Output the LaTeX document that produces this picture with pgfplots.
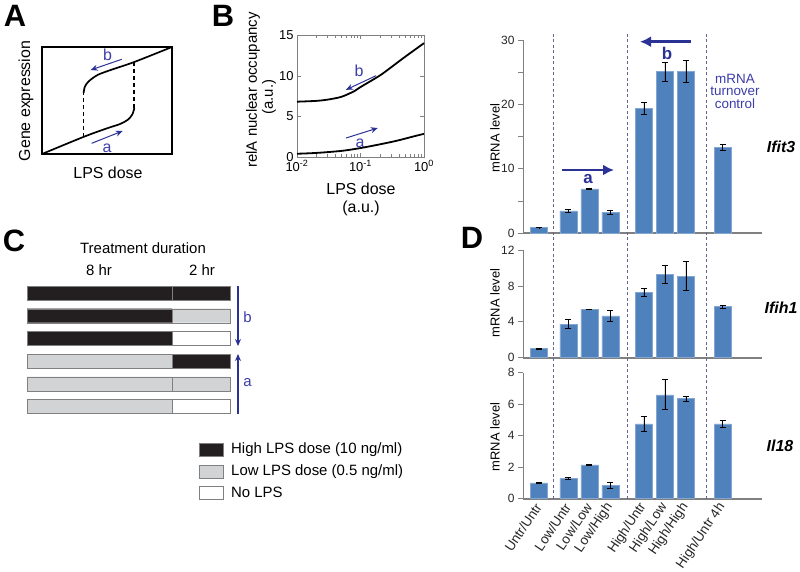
\documentclass[border=0pt]{standalone}
\usepackage{pgfplots}
\pgfplotsset{compat=1.18}
\usepackage{fontspec}
\setmainfont{Liberation Sans}
\usetikzlibrary{arrows.meta}
\definecolor{barblue}{RGB}{79,129,189}
\definecolor{arrblue}{RGB}{43,50,150}
\definecolor{txtblue}{RGB}{60,60,170}
\definecolor{axgray}{RGB}{128,128,128}
\definecolor{hiC}{RGB}{35,31,32}
\definecolor{loC}{RGB}{209,211,212}
\definecolor{dashC}{RGB}{100,100,140}
\newcommand{\fs}[1]{\fontsize{#1}{#1}\selectfont}
\pgfplotsset{
  dstyle/.style={scale only axis, width=239bp, xmin=-0.76, xmax=10.62,
    axis x line*=bottom, axis y line*=left,
    x axis line style={axgray, line width=2bp, -},
    y axis line style={axgray, line width=0.8bp, -},
    xtick=\empty, ytick style={axgray, line width=0.8bp}, tick align=outside,
    major tick length=5bp,
    yticklabel style={font=\fs{12}, text=black!85},
    /pgf/number format/assume math mode=true,
    clip=false, ybar, bar width=17bp, bar shift=0pt},
  dbar/.style={fill=barblue, draw=barblue!70!white, line width=0.5bp,
    error bars/.cd, y dir=both, y explicit,
    error bar style={black, line width=0.7bp},
    error mark options={rotate=90, black, mark size=3bp, line width=0.7bp}}
}
\begin{document}
\begin{tikzpicture}
\path[use as bounding box] (0,0) rectangle (800bp,-572bp);

% ---------------- Panel A ----------------
\begin{axis}[at={(42bp,-154bp)}, anchor=south west, scale only axis,
  width=130bp, height=107bp, xmin=0, xmax=1, ymin=0, ymax=1,
  xtick=\empty, ytick=\empty, axis line style={line width=1.3bp}, clip=false]
\addplot[black, line width=1.7bp, smooth] coordinates {(0,0) (0.32,0.16) (0.5,0.24) (0.6,0.28) (0.66,0.32) (0.695,0.37) (0.71,0.43)};
\addplot[black, line width=1.7bp, smooth] coordinates {(0.32,0.57) (0.33,0.63) (0.36,0.68) (0.43,0.74) (0.54,0.79) (0.71,0.86) (1,1)};
\addplot[black, line width=1.7bp, dash pattern=on 4bp off 3bp] coordinates {(0.32,0.16) (0.32,0.57)};
\addplot[black, line width=1.7bp, dash pattern=on 4bp off 3bp] coordinates {(0.71,0.43) (0.71,0.86)};
\draw[arrblue, line width=1bp, -{Stealth[length=7bp,width=6bp]}] (axis cs:0.613,0.885) -- (axis cs:0.374,0.785);
\draw[arrblue, line width=1bp, -{Stealth[length=7bp,width=6bp]}] (axis cs:0.382,0.10) -- (axis cs:0.62,0.215);
\node[txtblue, font=\fs{16}] at (axis cs:0.505,0.93) {b};
\node[txtblue, font=\fs{16}] at (axis cs:0.50,0.05) {a};
\end{axis}

% ---------------- Panel B ----------------
\begin{axis}[at={(297bp,-157bp)}, anchor=south west, scale only axis,
  width=127bp, height=122bp, xmode=log, xmin=0.01, xmax=1, ymin=0, ymax=15,
  ytick={0,5,10,15}, xtick={0.01,0.1,1},
  xticklabels={10\textsuperscript{-2},10\textsuperscript{-1},10\textsuperscript{0}},
  tick align=inside, axis line style={axgray, line width=0.6bp},
  tick style={axgray}, ticklabel style={font=\fs{13}},
  /pgf/number format/assume math mode=true, clip=false]
\addplot[black, line width=1.8bp, smooth] coordinates {(0.01,6.8) (0.02,6.9) (0.03,7.05) (0.05,7.4) (0.08,8.1) (0.1,8.6) (0.2,10.0) (0.3,11.0) (0.5,12.3) (1,14.0)};
\addplot[black, line width=1.8bp, smooth] coordinates {(0.01,0.4) (0.02,0.5) (0.05,0.75) (0.1,1.1) (0.2,1.55) (0.35,1.95) (0.5,2.25) (0.7,2.55) (1,2.85)};
\draw[arrblue, line width=1bp, -{Stealth[length=7bp,width=6bp]}] (axis cs:0.176,10.0) -- (axis cs:0.059,8.26);
\draw[arrblue, line width=1bp, -{Stealth[length=7bp,width=6bp]}] (axis cs:0.059,2.33) -- (axis cs:0.187,3.56);
\node[txtblue, font=\fs{16}] at (axis cs:0.095,10.6) {b};
\node[txtblue, font=\fs{16}] at (axis cs:0.098,1.7) {a};
\end{axis}

% ---------------- Panel C ----------------
\begin{axis}[at={(27bp,-281.65bp)}, anchor=north west, scale only axis,
  width=203bp, height=136.2bp, xmin=0, xmax=10, ymin=0.5, ymax=6.5,
  y dir=reverse, hide axis, xbar, bar width=14bp, bar shift=0pt, clip=false]
\addplot[xbar, bar shift=0pt, draw=axgray, fill=hiC] coordinates {(10,1) (10,4)};
\addplot[xbar, bar shift=0pt, draw=axgray, fill=loC] coordinates {(10,2) (10,5)};
\addplot[xbar, bar shift=0pt, draw=axgray, fill=white] coordinates {(10,3) (10,6)};
\addplot[xbar, bar shift=0pt, draw=axgray, fill=hiC] coordinates {(7.15,1) (7.15,2) (7.15,3)};
\addplot[xbar, bar shift=0pt, draw=axgray, fill=loC] coordinates {(7.15,4) (7.15,5) (7.15,6)};
\end{axis}

% ---------------- Panel D : Ifit3 ----------------
\begin{axis}[dstyle, at={(523bp,-233.3bp)}, anchor=south west, height=193.3bp,
  ymin=0, ymax=30, ytick={0,5,...,30}, yticklabels={0,,10,,20,,30}]
\addplot[dbar] coordinates {
 (0,0.9) +- (0,0.05)
 (1.4,3.5) +- (0,0.2)
 (2.4,6.9) +- (0,0.15)
 (3.4,3.3) +- (0,0.3)
 (5,19.4) +- (0,1.0)
 (6,25.1) +- (0,1.5)
 (7,25.1) +- (0,1.7)
 (8.75,13.3) +- (0,0.5)};
\end{axis}

% ---------------- Panel D : Ifih1 ----------------
\begin{axis}[dstyle, at={(523bp,-357.7bp)}, anchor=south west, height=107.7bp,
  ymin=0, ymax=12, ytick={0,4,8,12}]
\addplot[dbar] coordinates {
 (0,1.0) +- (0,0.03)
 (1.4,3.75) +- (0,0.5)
 (2.4,5.4) +- (0,0.04)
 (3.4,4.65) +- (0,0.6)
 (5,7.3) +- (0,0.45)
 (6,9.3) +- (0,1.0)
 (7,9.1) +- (0,1.6)
 (8.75,5.7) +- (0,0.15)};
\end{axis}

% ---------------- Panel D : Il18 ----------------
\begin{axis}[dstyle, at={(523bp,-498.7bp)}, anchor=south west, height=126bp,
  ymin=0, ymax=8, ytick={0,2,...,8},
  xtick={0,1.4,2.4,3.4,5,6,7,8.75},
  xticklabels={Untr/Untr,Low/Untr,Low/Low,Low/High,High/Untr,High/Low,High/High,High/Untr 4h},
  xtick style={draw=none},
  xticklabel style={rotate=56, anchor=east, font=\fs{13.5}, text=black!85, inner sep=1bp}]
\addplot[dbar] coordinates {
 (0,1.0) +- (0,0.02)
 (1.4,1.28) +- (0,0.05)
 (2.4,2.15) +- (0,0.03)
 (3.4,0.85) +- (0,0.22)
 (5,4.75) +- (0,0.5)
 (6,6.6) +- (0,0.95)
 (7,6.35) +- (0,0.15)
 (8.75,4.75) +- (0,0.23)};
\draw[dashC, line width=0.7bp, dash pattern=on 3bp off 2.5bp] (axis cs:0.67,0) -- (axis cs:0.67,29.57);
\draw[dashC, line width=0.7bp, dash pattern=on 3bp off 2.5bp] (axis cs:4.19,0) -- (axis cs:4.19,29.57);
\draw[dashC, line width=0.7bp, dash pattern=on 3bp off 2.5bp] (axis cs:7.95,0) -- (axis cs:7.95,29.57);
\end{axis}

% ---------------- annotations (pixel coordinates) ----------------
\begin{scope}[x=1bp, y=-1bp]
% panel letters
\node[font=\fs{31}\bfseries] at (15,16) {A};
\node[font=\fs{31}\bfseries] at (223,16) {B};
\node[font=\fs{31}\bfseries] at (14,241) {C};
\node[font=\fs{31}\bfseries] at (472,238) {D};
% panel A labels
\node[rotate=90, font=\fs{16}] at (26,101) {Gene expression};
\node[font=\fs{16}] at (108,173) {LPS dose};
% panel B labels
\node[rotate=90, font=\fs{15}] at (253,90) {relA nuclear occupancy};
\node[rotate=90, font=\fs{15}] at (269,97) {(a.u.)};
\node[font=\fs{16}] at (361,189) {LPS dose};
\node[font=\fs{16}] at (361,208) {(a.u.)};
% panel C texts
\node[font=\fs{15}] at (143,248) {Treatment duration};
\node[font=\fs{15}] at (99,270) {8 hr};
\node[font=\fs{15}] at (202,270) {2 hr};
\draw[arrblue, line width=1.2bp, -{Stealth[length=7bp,width=6bp]}] (238,286) -- (238,346);
\draw[arrblue, line width=1.2bp, -{Stealth[length=7bp,width=6bp]}] (238,414) -- (238,354);
\node[txtblue, font=\fs{15}] at (247.5,317) {b};
\node[txtblue, font=\fs{15}] at (247.5,383) {a};
% panel C legend
\draw[axgray, fill=hiC] (199,443) rectangle (223,456);
\draw[axgray, fill=loC] (199,465) rectangle (223,478);
\draw[axgray, fill=white] (199,486) rectangle (223,499);
\node[anchor=west, font=\fs{15}, inner sep=0pt] at (231,449.5) {High LPS dose (10 ng/ml)};
\node[anchor=west, font=\fs{15}, inner sep=0pt] at (231,471.5) {Low LPS dose (0.5 ng/ml)};
\node[anchor=west, font=\fs{15}, inner sep=0pt] at (231,492.5) {No LPS};
% panel D texts
\node[rotate=90, font=\fs{13}] at (495,138) {mRNA level};
\node[rotate=90, font=\fs{13}] at (495,303) {mRNA level};
\node[rotate=90, font=\fs{13}] at (495,437) {mRNA level};
\node[font=\fs{16}\bfseries\itshape] at (781,147) {Ifit3};
\node[font=\fs{16}\bfseries\itshape] at (781,308) {Ifih1};
\node[font=\fs{16}\bfseries\itshape] at (780,446) {Il18};
\node[txtblue, font=\fs{13.5}, align=center, text depth=0pt] at (735,91) {mRNA\\[-1bp]turnover\\[-1bp]control};
\draw[arrblue, line width=2.6bp, -{Latex[length=11bp,width=11bp]}] (562,170) -- (614,170);
\draw[arrblue, line width=2.6bp, -{Latex[length=11bp,width=11bp]}] (691,41.7) -- (640,41.7);
\node[arrblue, font=\fs{17}\bfseries] at (588,179) {a};
\node[arrblue, font=\fs{17}\bfseries] at (667,53) {b};
\end{scope}
\end{tikzpicture}
\end{document}
